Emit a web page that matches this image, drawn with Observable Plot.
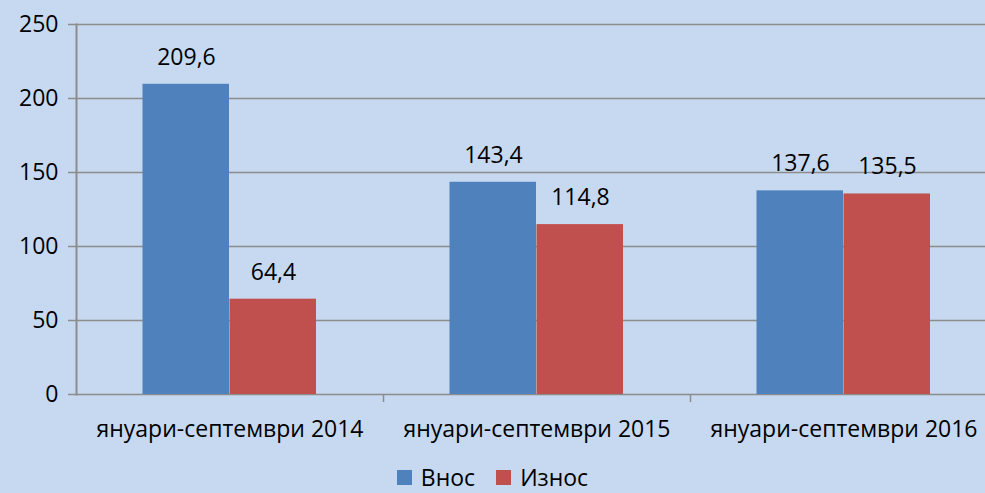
<!DOCTYPE html>
<html><head><meta charset="utf-8">
<script src="https://cdn.jsdelivr.net/npm/d3@7"></script>
<script src="https://cdn.jsdelivr.net/npm/@observablehq/plot@0.6"></script>
<style>
html,body{margin:0;padding:0;background:#C6D9F1;width:985px;height:493px;overflow:hidden;position:relative;font-family:"Open Sans",sans-serif;}
#legend{position:absolute;left:0;width:985px;top:464px;display:flex;justify-content:center;gap:21px;font-size:23px;line-height:26px;color:#000;}
#legend span.item{display:flex;align-items:center;}
#legend span.sw{display:inline-block;width:15px;height:15px;margin-right:9px;}
</style></head>
<body>
<div id="chart"></div>
<div id="legend"></div>
<script>
const categories = ["януари-септември 2014", "януари-септември 2015", "януари-септември 2016"];
const seriesNames = ["Внос", "Износ"];
const vnos = [209.6, 143.4, 137.6];
const iznos = [64.4, 114.8, 135.5];
const yTicks = [0, 50, 100, 150, 200, 250];
const colors = ["#4F81BD", "#C0504D"];

const data = [];
categories.forEach((c, i) => {
  data.push({cat: c, series: seriesNames[0], value: vnos[i]});
  data.push({cat: c, series: seriesNames[1], value: iznos[i]});
});
const fmt = v => String(v.toFixed(1)).replace(".", ",");
const ser = s => data.filter(d => d.series === s);

const chart = Plot.plot({
  width: 985,
  height: 462,
  marginLeft: 76,
  marginRight: 0,
  marginTop: 24,
  marginBottom: 68,
  style: {background: "transparent", fontFamily: "Open Sans, sans-serif", fontSize: "23px", color: "#000"},
  x: {type: "band", domain: categories, range: [76, 997], padding: 0},
  y: {domain: [0, 250], range: [394, 24]},
  color: {domain: seriesNames, range: colors},
  marks: [
    Plot.ruleY(yTicks, {stroke: "#8C8C8C", strokeWidth: 1.5}),
    Plot.barY(ser("Внос"), {x: "cat", y: "value", fill: "series", insetLeft: 66.5, insetRight: 154}),
    Plot.barY(ser("Износ"), {x: "cat", y: "value", fill: "series", insetLeft: 153.5, insetRight: 67}),
    Plot.text(ser("Внос"), {x: "cat", y: "value", text: d => fmt(d.value), dx: -43.5, dy: -27, fill: "#000", fontSize: 23}),
    Plot.text(ser("Износ"), {x: "cat", y: "value", text: d => fmt(d.value), dx: 43.5, dy: -27, fill: "#000", fontSize: 23}),
    Plot.frame({anchor: "left", stroke: "#8C8C8C", strokeWidth: 2, strokeOpacity: 1}),
    Plot.axisY({ticks: yTicks, tickSize: 8, tickPadding: 10, stroke: "#8C8C8C", strokeWidth: 1.5, tickFormat: d => d, fontSize: 23, label: null, color: "#000"}),
    Plot.axisX({ticks: categories.slice(1), tickSize: 8, tickFormat: () => "", dx: -153.5, stroke: "#8C8C8C", strokeWidth: 1.5, label: null}),
    Plot.axisX({tickSize: 0, tickPadding: 26, fontSize: 23, label: null, color: "#000"})
  ]
});
document.getElementById("chart").appendChild(chart);

const lg = document.getElementById("legend");
seriesNames.forEach((s, i) => {
  const it = document.createElement("span");
  it.className = "item";
  it.innerHTML = `<span class="sw" style="background:${colors[i]}"></span>${s}`;
  lg.appendChild(it);
});
</script>
</body></html>
